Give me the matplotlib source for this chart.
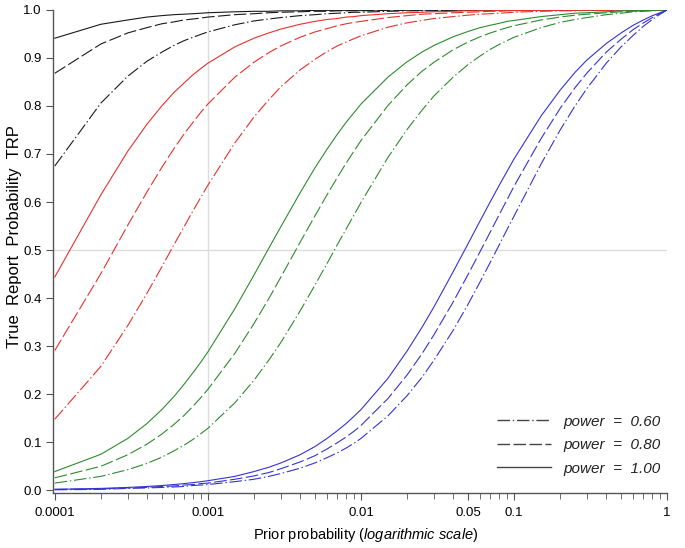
from matplotlib import pyplot as plt

plt.rcParams['font.family'] = ['Liberation Sans', 'DejaVu Sans']
plt.rcParams['mathtext.fontset'] = 'custom'
plt.rcParams['mathtext.it'] = 'Liberation Sans:italic'
plt.rcParams['mathtext.rm'] = 'Liberation Sans'
plt.rcParams['lines.scale_dashes'] = False

prior = [0.0001, 0.0002, 0.0003, 0.0004, 0.0005, 0.0006, 0.0007, 0.0008, 0.0009,
         0.001, 0.0015, 0.002, 0.0025, 0.003, 0.004, 0.005, 0.006, 0.007, 0.008, 0.009,
         0.01, 0.015, 0.02, 0.025, 0.03, 0.04, 0.05, 0.06, 0.07, 0.08, 0.09,
         0.1, 0.15, 0.2, 0.25, 0.3, 0.4, 0.5, 0.6, 0.7, 0.8, 0.9, 1.0]

black_100 = [0.941, 0.970, 0.979, 0.985, 0.988, 0.990, 0.991, 0.992, 0.993,
             0.994, 0.996, 0.997, 0.997, 0.998, 0.998, 0.999, 0.999, 0.999, 0.999, 0.999,
             0.999, 1.000, 1.000, 1.000, 1.000, 1.000, 1.000, 1.000, 1.000, 1.000, 1.000,
             1.000, 1.000, 1.000, 1.000, 1.000, 1.000, 1.000, 1.000, 1.000, 1.000, 1.000, 1.000]
black_080 = [0.868, 0.929, 0.952, 0.963, 0.971, 0.975, 0.979, 0.981, 0.983,
             0.985, 0.990, 0.992, 0.994, 0.995, 0.996, 0.997, 0.997, 0.998, 0.998, 0.998,
             0.998, 0.999, 0.999, 0.999, 0.999, 0.999, 1.000, 1.000, 1.000, 1.000, 1.000,
             1.000, 1.000, 1.000, 1.000, 1.000, 1.000, 1.000, 1.000, 1.000, 1.000, 1.000, 1.000]
black_060 = [0.675, 0.806, 0.862, 0.893, 0.912, 0.926, 0.936, 0.943, 0.949,
             0.954, 0.969, 0.977, 0.981, 0.984, 0.988, 0.990, 0.992, 0.993, 0.994, 0.995,
             0.995, 0.997, 0.998, 0.998, 0.998, 0.999, 0.999, 0.999, 0.999, 0.999, 0.999,
             1.000, 1.000, 1.000, 1.000, 1.000, 1.000, 1.000, 1.000, 1.000, 1.000, 1.000, 1.000]

red_100 = [0.444, 0.615, 0.706, 0.762, 0.800, 0.828, 0.848, 0.865, 0.878,
           0.889, 0.923, 0.941, 0.952, 0.960, 0.970, 0.976, 0.980, 0.982, 0.985, 0.986,
           0.988, 0.992, 0.994, 0.995, 0.996, 0.997, 0.998, 0.998, 0.998, 0.999, 0.999,
           0.999, 0.999, 1.000, 1.000, 1.000, 1.000, 1.000, 1.000, 1.000, 1.000, 1.000, 1.000]
red_080 = [0.291, 0.451, 0.552, 0.621, 0.672, 0.711, 0.742, 0.766, 0.787,
           0.804, 0.860, 0.891, 0.911, 0.925, 0.943, 0.954, 0.961, 0.967, 0.971, 0.974,
           0.976, 0.984, 0.988, 0.991, 0.992, 0.994, 0.995, 0.996, 0.997, 0.997, 0.998,
           0.998, 0.999, 0.999, 0.999, 0.999, 1.000, 1.000, 1.000, 1.000, 1.000, 1.000, 1.000]
red_060 = [0.148, 0.258, 0.343, 0.410, 0.465, 0.511, 0.549, 0.582, 0.610,
           0.635, 0.723, 0.777, 0.813, 0.840, 0.875, 0.897, 0.913, 0.925, 0.933, 0.940,
           0.946, 0.964, 0.973, 0.978, 0.982, 0.986, 0.989, 0.991, 0.992, 0.993, 0.994,
           0.995, 0.997, 0.998, 0.998, 0.999, 0.999, 0.999, 1.000, 1.000, 1.000, 1.000, 1.000]

green_100 = [0.039, 0.075, 0.108, 0.139, 0.168, 0.195, 0.221, 0.245, 0.267,
             0.288, 0.378, 0.448, 0.504, 0.549, 0.619, 0.671, 0.710, 0.741, 0.766, 0.786,
             0.804, 0.860, 0.892, 0.912, 0.926, 0.944, 0.955, 0.963, 0.968, 0.972, 0.976,
             0.978, 0.986, 0.990, 0.993, 0.994, 0.996, 0.998, 0.998, 0.999, 0.999, 1.000, 1.000]
green_080 = [0.026, 0.050, 0.074, 0.096, 0.117, 0.137, 0.156, 0.175, 0.193,
             0.210, 0.285, 0.347, 0.399, 0.444, 0.516, 0.571, 0.615, 0.651, 0.681, 0.706,
             0.728, 0.801, 0.844, 0.872, 0.891, 0.917, 0.933, 0.944, 0.952, 0.958, 0.963,
             0.967, 0.979, 0.985, 0.989, 0.991, 0.994, 0.996, 0.997, 0.998, 0.999, 1.000, 1.000]
green_060 = [0.015, 0.029, 0.043, 0.056, 0.069, 0.082, 0.094, 0.106, 0.118,
             0.129, 0.182, 0.229, 0.271, 0.308, 0.373, 0.427, 0.472, 0.511, 0.544, 0.573,
             0.599, 0.693, 0.751, 0.791, 0.821, 0.860, 0.886, 0.904, 0.918, 0.928, 0.936,
             0.943, 0.963, 0.974, 0.980, 0.984, 0.990, 0.993, 0.996, 0.997, 0.998, 0.999, 1.000]

blue_100 = [0.002, 0.004, 0.006, 0.008, 0.010, 0.012, 0.014, 0.016, 0.018,
            0.020, 0.029, 0.039, 0.048, 0.057, 0.074, 0.091, 0.108, 0.124, 0.139, 0.154,
            0.168, 0.233, 0.290, 0.339, 0.382, 0.455, 0.513, 0.561, 0.601, 0.635, 0.664,
            0.690, 0.779, 0.833, 0.870, 0.896, 0.930, 0.952, 0.968, 0.979, 0.988, 0.994, 1.000]
blue_080 = [0.002, 0.003, 0.005, 0.006, 0.008, 0.009, 0.011, 0.012, 0.014,
            0.015, 0.023, 0.030, 0.037, 0.045, 0.059, 0.072, 0.086, 0.099, 0.111, 0.123,
            0.135, 0.191, 0.240, 0.284, 0.324, 0.392, 0.449, 0.497, 0.538, 0.574, 0.605,
            0.633, 0.732, 0.795, 0.838, 0.869, 0.912, 0.939, 0.959, 0.973, 0.984, 0.993, 1.000]
blue_060 = [0.001, 0.002, 0.004, 0.005, 0.006, 0.007, 0.008, 0.010, 0.011,
            0.012, 0.018, 0.023, 0.029, 0.035, 0.046, 0.057, 0.068, 0.078, 0.088, 0.098,
            0.108, 0.155, 0.197, 0.235, 0.271, 0.333, 0.387, 0.434, 0.475, 0.511, 0.543,
            0.571, 0.679, 0.750, 0.800, 0.837, 0.889, 0.923, 0.947, 0.966, 0.980, 0.991, 1.000]

x_ticks = [0.0001, 0.001, 0.01, 0.05, 0.1, 1]
x_tick_labels = ['0.0001', '0.001', '0.01', '0.05', '0.1', '1']
y_ticks = [0.0, 0.1, 0.2, 0.3, 0.4, 0.5, 0.6, 0.7, 0.8, 0.9, 1.0]
y_tick_labels = ['0.0', '0.1', '0.2', '0.3', '0.4', '0.5', '0.6', '0.7', '0.8', '0.9', '1.0']

dash_dot = (0, (9, 2, 1, 2))
long_dash = (0, (9, 2.5))

fig = plt.figure(figsize=(6.85, 5.48), dpi=100)
ax = fig.add_axes([0.077, 0.100, 0.897, 0.882])

ax.axhline(0.5, color='#dcdcdc', lw=1, zorder=0)
ax.axvline(0.001, color='#dcdcdc', lw=1, zorder=0)

groups = [('#1a1a1a', black_060, black_080, black_100),
          ('#e8312c', red_060, red_080, red_100),
          ('#2e8b2e', green_060, green_080, green_100),
          ('#3333d6', blue_060, blue_080, blue_100)]
for color, y60, y80, y100 in groups:
    ax.plot(prior, y60, color=color, lw=0.8, linestyle=dash_dot)
    ax.plot(prior, y80, color=color, lw=0.8, linestyle=long_dash)
    ax.plot(prior, y100, color=color, lw=0.8, linestyle='-')

# legend handles in dark gray
h1, = ax.plot([], [], color='#444444', lw=1, linestyle=dash_dot)
h2, = ax.plot([], [], color='#444444', lw=1, linestyle=long_dash)
h3, = ax.plot([], [], color='#444444', lw=1, linestyle='-')
leg = ax.legend([h1, h2, h3], ['power  =  0.60', 'power  =  0.80', 'power  =  1.00'],
                loc='lower right', bbox_to_anchor=(1.012, 0.008), frameon=False,
                handlelength=3.5, handletextpad=0.85, labelspacing=0.62,
                prop={'style': 'italic', 'size': 11})
for t in leg.get_texts():
    t.set_color('#222222')

ax.set_xscale('log')
ax.set_xlim(0.000097, 1.0)
ax.set_ylim(-0.006, 1.0)
ax.set_xticks(x_ticks)
ax.set_xticklabels(x_tick_labels)
ax.set_xticks([m * d for d in [0.0001, 0.001, 0.01, 0.1] for m in range(2, 10) if m * d != 0.05],
              minor=True)
ax.set_yticks(y_ticks)
ax.set_yticklabels(y_tick_labels)

for side in ['top', 'right']:
    ax.spines[side].set_visible(False)
for side in ['left', 'bottom']:
    ax.spines[side].set_color('#555555')
    ax.spines[side].set_linewidth(1)
ax.tick_params(axis='both', which='major', labelsize=9.5, length=5, color='#555555', pad=3)
ax.tick_params(axis='x', which='minor', length=4, color='#555555', labelbottom=False)
ax.tick_params(axis='x', which='major', pad=5)

ax.set_ylabel('True  Report  Probability  TRP', fontsize=12)
ax.yaxis.set_label_coords(-0.05, 0.53)
ax.set_xlabel('Prior probability $\\it{(logarithmic\\ scale)}$', fontsize=10.5)
ax.xaxis.set_label_coords(0.51, -0.068)

plt.savefig('out.png', dpi=100)
